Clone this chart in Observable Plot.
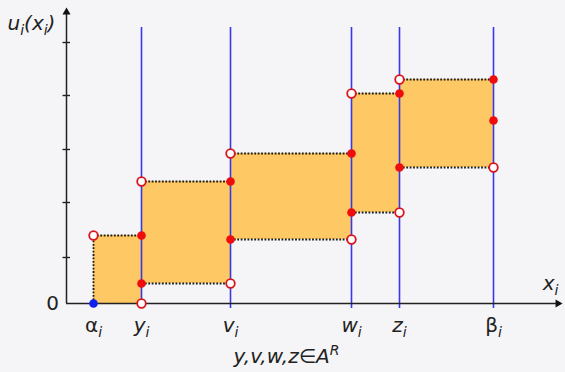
<!DOCTYPE html>
<html>
<head>
<meta charset="utf-8">
<script src="https://cdn.jsdelivr.net/npm/d3@7"></script>
<script src="https://cdn.jsdelivr.net/npm/@observablehq/plot@0.6"></script>
<style>
  html, body { margin: 0; padding: 0; background: #f5f5f7; }
</style>
</head>
<body>
<div id="chart"></div>
<script>
// Breakpoints on the x axis (names and positions)
const pointNames = ["alpha", "y", "v", "w", "z", "beta"];
const pointX = [27, 75, 164, 285, 333, 427];
const xLabels = ["α_i", "y_i", "v_i", "w_i", "z_i", "β_i"];
const xLabelItalic = [false, true, true, true, true, false];

// Step blocks: from point i to point i+1, lower and upper utility
const blockFrom = ["alpha", "y", "v", "w", "z"];
const blockTo = ["y", "v", "w", "z", "beta"];
const blockLow = [0, 20, 64, 91, 136];
const blockHigh = [68, 122, 150, 210, 224];

// Points drawn on the verticals
const openPtX = ["alpha", "y", "y", "v", "v", "w", "w", "z", "z", "beta"];
const openPtU = [68, 0, 122, 20, 150, 64, 210, 91, 224, 136];
const fillPtX = ["y", "y", "v", "v", "w", "w", "z", "z", "beta", "beta"];
const fillPtU = [68, 20, 122, 64, 150, 91, 210, 136, 224, 183];
const bluePtX = ["alpha"];
const bluePtU = [0];

// Vertical guide lines at these points
const guideX = ["y", "v", "w", "z", "beta"];
const guideTop = 276;
const guideBottom = -5;

// Y axis ticks
const yTicks = [46, 101, 154, 208, 261];

// Axis extents
const xMax = 496, uMax = 296;

// Texts
const yTitle = "u_i(x_i)";
const xTitle = "x_i";
const zeroLabel = "0";
const caption = "y,v,w,z∈A^R";

const px = Object.fromEntries(pointNames.map((n, i) => [n, pointX[i]]));

const blocks = blockFrom.map((f, i) => ({x1: px[f], x2: px[blockTo[i]], lo: blockLow[i], hi: blockHigh[i]}));
const dotted = [];
blocks.forEach((b, i) => {
  dotted.push({x1: b.x1, x2: b.x2, y1: b.hi, y2: b.hi});
  if (b.lo > 0) dotted.push({x1: b.x1, x2: b.x2, y1: b.lo, y2: b.lo});
  if (i === 0) dotted.push({x1: b.x1, x2: b.x1, y1: b.lo, y2: b.hi});
});
const openPts = openPtX.map((n, i) => ({x: px[n], u: openPtU[i]}));
const fillPts = fillPtX.map((n, i) => ({x: px[n], u: fillPtU[i]}));
const bluePts = bluePtX.map((n, i) => ({x: px[n], u: bluePtU[i]}));
const guides = guideX.map(n => ({x: px[n]}));
const labels = xLabels.map((l, i) => ({x: pointX[i], label: l, italic: xLabelItalic[i]}));

const font = "DejaVu Sans";
const fs = 20;

const chart = Plot.plot({
  width: 565,
  height: 372,
  marginLeft: 66,
  marginRight: 3,
  marginTop: 7,
  marginBottom: 69,
  x: {domain: [0, xMax], axis: null},
  y: {domain: [0, uMax], axis: null},
  style: {background: "#f5f5f7", fontFamily: font, fontSize: fs + "px", overflow: "visible"},
  marks: [
    Plot.rect(blocks, {x1: "x1", x2: "x2", y1: "lo", y2: "hi", fill: "#fec965"}),
    Plot.link(dotted, {x1: "x1", x2: "x2", y1: "y1", y2: "y2", stroke: "#1a1a1a", strokeWidth: 1.8, strokeDasharray: "1.8,1.6"}),
    Plot.ruleX(guides, {x: "x", y1: guideBottom, y2: guideTop, stroke: "#3838e6", strokeWidth: 1.6}),
    // axes
    Plot.ruleY([0], {x1: 0, x2: xMax - 4, stroke: "#222", strokeWidth: 1.5}),
    Plot.ruleX([0], {y1: 0, y2: uMax - 4, stroke: "#222", strokeWidth: 1.5}),
    Plot.dot([{x: xMax - 4.6, u: 0}], {x: "x", y: "u", symbol: "triangle", r: 3, rotate: 90, fill: "#111", stroke: "none"}),
    Plot.dot([{x: 0, u: uMax - 4.6}], {x: "x", y: "u", symbol: "triangle", r: 3, fill: "#111", stroke: "none"}),
    Plot.ruleY(yTicks, {y: d => d, x1: -3.5, x2: 4, stroke: "#222", strokeWidth: 1.4}),
    // points
    Plot.dot(openPts, {x: "x", y: "u", r: 4.3, fill: "white", stroke: "#d9141c", strokeWidth: 1.8}),
    Plot.dot(fillPts, {x: "x", y: "u", r: 4.3, fill: "#ee0c0c", stroke: "none"}),
    Plot.dot(bluePts, {x: "x", y: "u", r: 4.3, fill: "#1020ee", stroke: "none"}),
    // texts
    Plot.text(labels.filter(d => d.italic), {x: "x", y: 0, text: "label", dy: 22, fontSize: fs, fontStyle: "italic", fill: "#222"}),
    Plot.text(labels.filter(d => !d.italic), {x: "x", y: 0, text: "label", dy: 22, fontSize: fs, fill: "#222"}),
    Plot.text([zeroLabel], {x: 0, y: 0, text: d => d, dx: -14, fontSize: fs, fill: "#222"}),
    Plot.text([yTitle], {frameAnchor: "top-left", lineAnchor: "middle", text: d => d, dx: -59, dy: 16, textAnchor: "start", fontSize: fs, fontStyle: "italic", fill: "#222"}),
    Plot.text([xTitle], {frameAnchor: "bottom-right", lineAnchor: "middle", text: d => d, dx: -4, dy: -20, textAnchor: "end", fontSize: fs, fontStyle: "italic", fill: "#222"}),
    Plot.text([caption], {frameAnchor: "bottom", lineAnchor: "middle", text: d => d, dx: -28, dy: 53, fontSize: fs, fontStyle: "italic", fill: "#222"})
  ]
});

// Turn "_x" into subscripts and "^x" into superscripts
function richify(root) {
  root.querySelectorAll("text").forEach(el => {
    const s = el.textContent;
    if (!/[_^]/.test(s)) return;
    el.textContent = "";
    const parts = s.split(/([_^].)/);
    let shift = 0;
    for (const p of parts) {
      if (!p) continue;
      const ts = document.createElementNS("http://www.w3.org/2000/svg", "tspan");
      if (p[0] === "_" || p[0] === "^") {
        const d = p[0] === "_" ? 5 : -8;
        if (d - shift !== 0) ts.setAttribute("dy", d - shift);
        shift = d;
        ts.setAttribute("font-size", "14");
        ts.setAttribute("font-style", "italic");
        ts.textContent = p[1];
      } else {
        if (shift !== 0) ts.setAttribute("dy", -shift);
        shift = 0;
        ts.textContent = p;
      }
      el.appendChild(ts);
    }
  });
}
richify(chart);
document.getElementById("chart").appendChild(chart);
</script>
</body>
</html>
